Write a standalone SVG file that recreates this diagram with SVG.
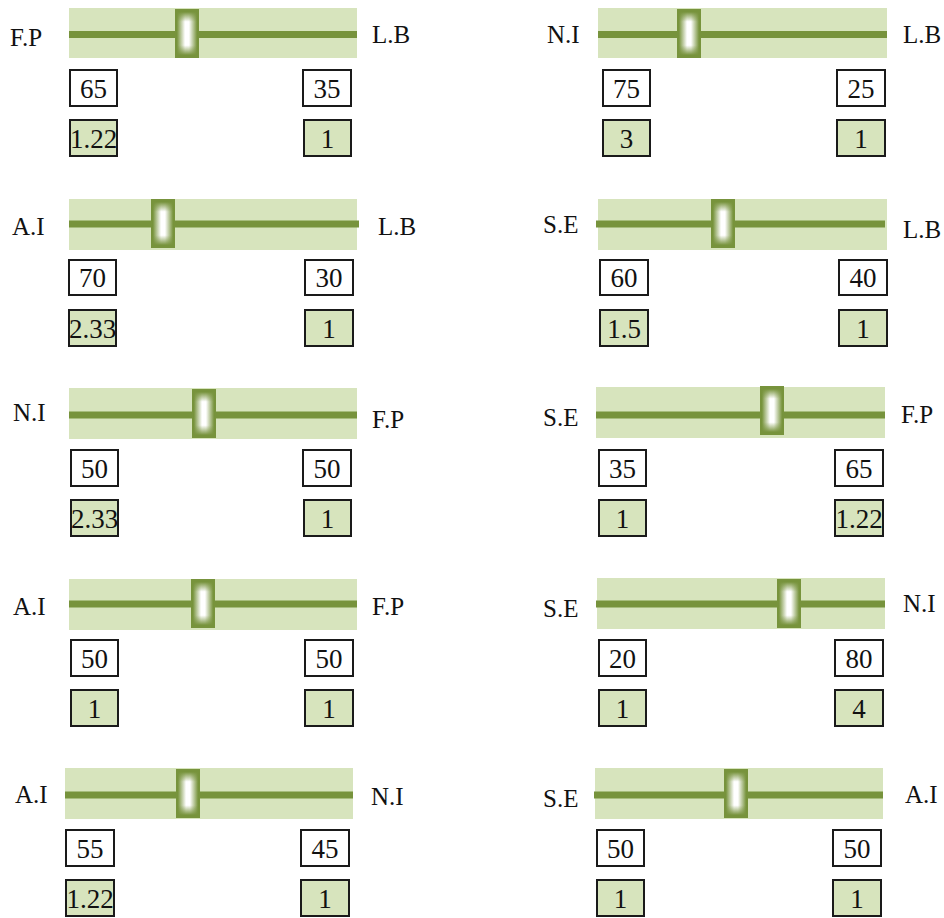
<svg xmlns="http://www.w3.org/2000/svg" xmlns:xlink="http://www.w3.org/1999/xlink" width="944" height="918" viewBox="0 0 944 918">
<style>
.bg{fill:#d7e4bd}
.ln{stroke:#77933c;stroke-width:7}
.lb{font-family:"Liberation Serif",serif;font-size:25px;fill:#111}
.bx{fill:#fff;stroke:#1a1a1a;stroke-width:2}
.gb{fill:#d7e4bd;stroke:#1a1a1a;stroke-width:2}
.nm{font-family:"Liberation Serif",serif;font-size:27px;fill:#111;text-anchor:middle}
</style>
<defs>
<linearGradient id="gh" x1="0" y1="0" x2="1" y2="0">
<stop offset="0" stop-color="#77933c"/>
<stop offset="0.08" stop-color="#77933c"/>
<stop offset="0.42" stop-color="#ffffff"/>
<stop offset="0.58" stop-color="#ffffff"/>
<stop offset="0.92" stop-color="#77933c"/>
<stop offset="1" stop-color="#77933c"/>
</linearGradient>
<linearGradient id="gv" x1="0" y1="0" x2="0" y2="1">
<stop offset="0" stop-color="#77933c" stop-opacity="1"/>
<stop offset="0.06" stop-color="#77933c" stop-opacity="1"/>
<stop offset="0.26" stop-color="#77933c" stop-opacity="0"/>
<stop offset="0.74" stop-color="#77933c" stop-opacity="0"/>
<stop offset="0.94" stop-color="#77933c" stop-opacity="1"/>
<stop offset="1" stop-color="#77933c" stop-opacity="1"/>
</linearGradient>
<g id="thumb">
<rect x="0" y="0" width="24" height="49" fill="url(#gh)"/>
<rect x="0" y="0" width="24" height="49" fill="url(#gv)"/>
</g>
</defs>
<rect width="944" height="918" fill="#fff"/>

<g id="slider1">
<rect class="bg" x="69" y="8" width="288" height="50"/>
<line class="ln" x1="69" y1="34.5" x2="357" y2="34.5"/>
<use xlink:href="#thumb" href="#thumb" x="175" y="9"/>
<text class="lb" x="10" y="46">F.P</text>
<text class="lb" x="372" y="43">L.B</text>
<rect class="bx" x="70" y="70" width="47" height="36"/><text class="nm" x="93.5" y="98">65</text>
<rect class="bx" x="303" y="70" width="48" height="36"/><text class="nm" x="327" y="98">35</text>
<rect class="gb" x="70" y="120" width="47" height="36"/><text class="nm" x="93.5" y="148">1.22</text>
<rect class="gb" x="304" y="120" width="47" height="36"/><text class="nm" x="327.5" y="148">1</text>
</g>

<g id="slider2">
<rect class="bg" x="598" y="8" width="289" height="50"/>
<line class="ln" x1="598" y1="34.5" x2="887" y2="34.5"/>
<use xlink:href="#thumb" href="#thumb" x="677" y="9"/>
<text class="lb" x="547" y="43">N.I</text>
<text class="lb" x="903" y="43">L.B</text>
<rect class="bx" x="603" y="70" width="47" height="36"/><text class="nm" x="626.5" y="98">75</text>
<rect class="bx" x="837" y="70" width="48" height="36"/><text class="nm" x="861" y="98">25</text>
<rect class="gb" x="603" y="120" width="47" height="36"/><text class="nm" x="626.5" y="148">3</text>
<rect class="gb" x="837" y="120" width="48" height="36"/><text class="nm" x="861" y="148">1</text>
</g>

<g id="slider3">
<rect class="bg" x="69" y="199" width="288" height="51"/>
<line class="ln" x1="69" y1="224" x2="359" y2="224"/>
<use xlink:href="#thumb" href="#thumb" x="151" y="199"/>
<text class="lb" x="12" y="235">A.I</text>
<text class="lb" x="378" y="235">L.B</text>
<rect class="bx" x="69" y="260" width="47" height="35"/><text class="nm" x="92.5" y="287">70</text>
<rect class="bx" x="305" y="260" width="48" height="35"/><text class="nm" x="329" y="287">30</text>
<rect class="gb" x="69" y="310" width="47" height="36"/><text class="nm" x="92.5" y="338">2.33</text>
<rect class="gb" x="305" y="310" width="48" height="36"/><text class="nm" x="329" y="338">1</text>
</g>

<g id="slider4">
<rect class="bg" x="598" y="199" width="289" height="51"/>
<line class="ln" x1="596" y1="224" x2="885" y2="224"/>
<use xlink:href="#thumb" href="#thumb" x="711" y="199"/>
<text class="lb" x="543" y="233">S.E</text>
<text class="lb" x="903" y="238">L.B</text>
<rect class="bx" x="600" y="260" width="48" height="35"/><text class="nm" x="624" y="287">60</text>
<rect class="bx" x="839" y="260" width="48" height="35"/><text class="nm" x="863" y="287">40</text>
<rect class="gb" x="600" y="310" width="48" height="36"/><text class="nm" x="624" y="338">1.5</text>
<rect class="gb" x="839" y="310" width="48" height="36"/><text class="nm" x="863" y="338">1</text>
</g>

<g id="slider5">
<rect class="bg" x="69" y="388" width="288" height="51"/>
<line class="ln" x1="69" y1="415" x2="357" y2="415"/>
<use xlink:href="#thumb" href="#thumb" x="192" y="389"/>
<text class="lb" x="13" y="421">N.I</text>
<text class="lb" x="372" y="428">F.P</text>
<rect class="bx" x="71" y="450" width="47" height="36"/><text class="nm" x="94.5" y="478">50</text>
<rect class="bx" x="303" y="450" width="48" height="36"/><text class="nm" x="327" y="478">50</text>
<rect class="gb" x="71" y="500" width="47" height="36"/><text class="nm" x="94.5" y="528">2.33</text>
<rect class="gb" x="304" y="500" width="47" height="36"/><text class="nm" x="327.5" y="528">1</text>
</g>

<g id="slider6">
<rect class="bg" x="596" y="387" width="289" height="51"/>
<line class="ln" x1="596" y1="415" x2="885" y2="415"/>
<use xlink:href="#thumb" href="#thumb" x="760" y="386"/>
<text class="lb" x="543" y="426">S.E</text>
<text class="lb" x="901" y="423">F.P</text>
<rect class="bx" x="599" y="450" width="47" height="36"/><text class="nm" x="622.5" y="478">35</text>
<rect class="bx" x="835" y="450" width="48" height="36"/><text class="nm" x="859" y="478">65</text>
<rect class="gb" x="599" y="500" width="47" height="36"/><text class="nm" x="622.5" y="528">1</text>
<rect class="gb" x="835" y="500" width="48" height="36"/><text class="nm" x="859" y="528">1.22</text>
</g>

<g id="slider7">
<rect class="bg" x="69" y="579" width="288" height="51"/>
<line class="ln" x1="69" y1="604" x2="357" y2="604"/>
<use xlink:href="#thumb" href="#thumb" x="191" y="579"/>
<text class="lb" x="13" y="615">A.I</text>
<text class="lb" x="372" y="615">F.P</text>
<rect class="bx" x="71" y="640" width="47" height="36"/><text class="nm" x="94.5" y="668">50</text>
<rect class="bx" x="305" y="640" width="48" height="36"/><text class="nm" x="329" y="668">50</text>
<rect class="gb" x="71" y="690" width="47" height="36"/><text class="nm" x="94.5" y="718">1</text>
<rect class="gb" x="305" y="690" width="48" height="36"/><text class="nm" x="329" y="718">1</text>
</g>

<g id="slider8">
<rect class="bg" x="597" y="578" width="288" height="51"/>
<line class="ln" x1="596" y1="604" x2="885" y2="604"/>
<use xlink:href="#thumb" href="#thumb" x="777" y="579"/>
<text class="lb" x="543" y="617">S.E</text>
<text class="lb" x="903" y="612">N.I</text>
<rect class="bx" x="599" y="640" width="47" height="36"/><text class="nm" x="622.5" y="668">20</text>
<rect class="bx" x="835" y="640" width="48" height="36"/><text class="nm" x="859" y="668">80</text>
<rect class="gb" x="599" y="690" width="47" height="36"/><text class="nm" x="622.5" y="718">1</text>
<rect class="gb" x="835" y="690" width="48" height="36"/><text class="nm" x="859" y="718">4</text>
</g>

<g id="slider9">
<rect class="bg" x="65" y="768" width="288" height="51"/>
<line class="ln" x1="65" y1="795" x2="353" y2="795"/>
<use xlink:href="#thumb" href="#thumb" x="176" y="769"/>
<text class="lb" x="15" y="803">A.I</text>
<text class="lb" x="371" y="805">N.I</text>
<rect class="bx" x="66" y="830" width="48" height="36"/><text class="nm" x="90" y="858">55</text>
<rect class="bx" x="301" y="830" width="48" height="36"/><text class="nm" x="325" y="858">45</text>
<rect class="gb" x="66" y="880" width="48" height="36"/><text class="nm" x="90" y="908">1.22</text>
<rect class="gb" x="301" y="880" width="48" height="36"/><text class="nm" x="325" y="908">1</text>
</g>

<g id="slider10">
<rect class="bg" x="595" y="768" width="288" height="51"/>
<line class="ln" x1="594" y1="795" x2="883" y2="795"/>
<use xlink:href="#thumb" href="#thumb" x="724" y="769"/>
<text class="lb" x="543" y="807">S.E</text>
<text class="lb" x="905" y="803">A.I</text>
<rect class="bx" x="597" y="830" width="47" height="36"/><text class="nm" x="620.5" y="858">50</text>
<rect class="bx" x="833" y="830" width="48" height="36"/><text class="nm" x="857" y="858">50</text>
<rect class="gb" x="597" y="880" width="47" height="36"/><text class="nm" x="620.5" y="908">1</text>
<rect class="gb" x="833" y="880" width="48" height="36"/><text class="nm" x="857" y="908">1</text>
</g>
</svg>
